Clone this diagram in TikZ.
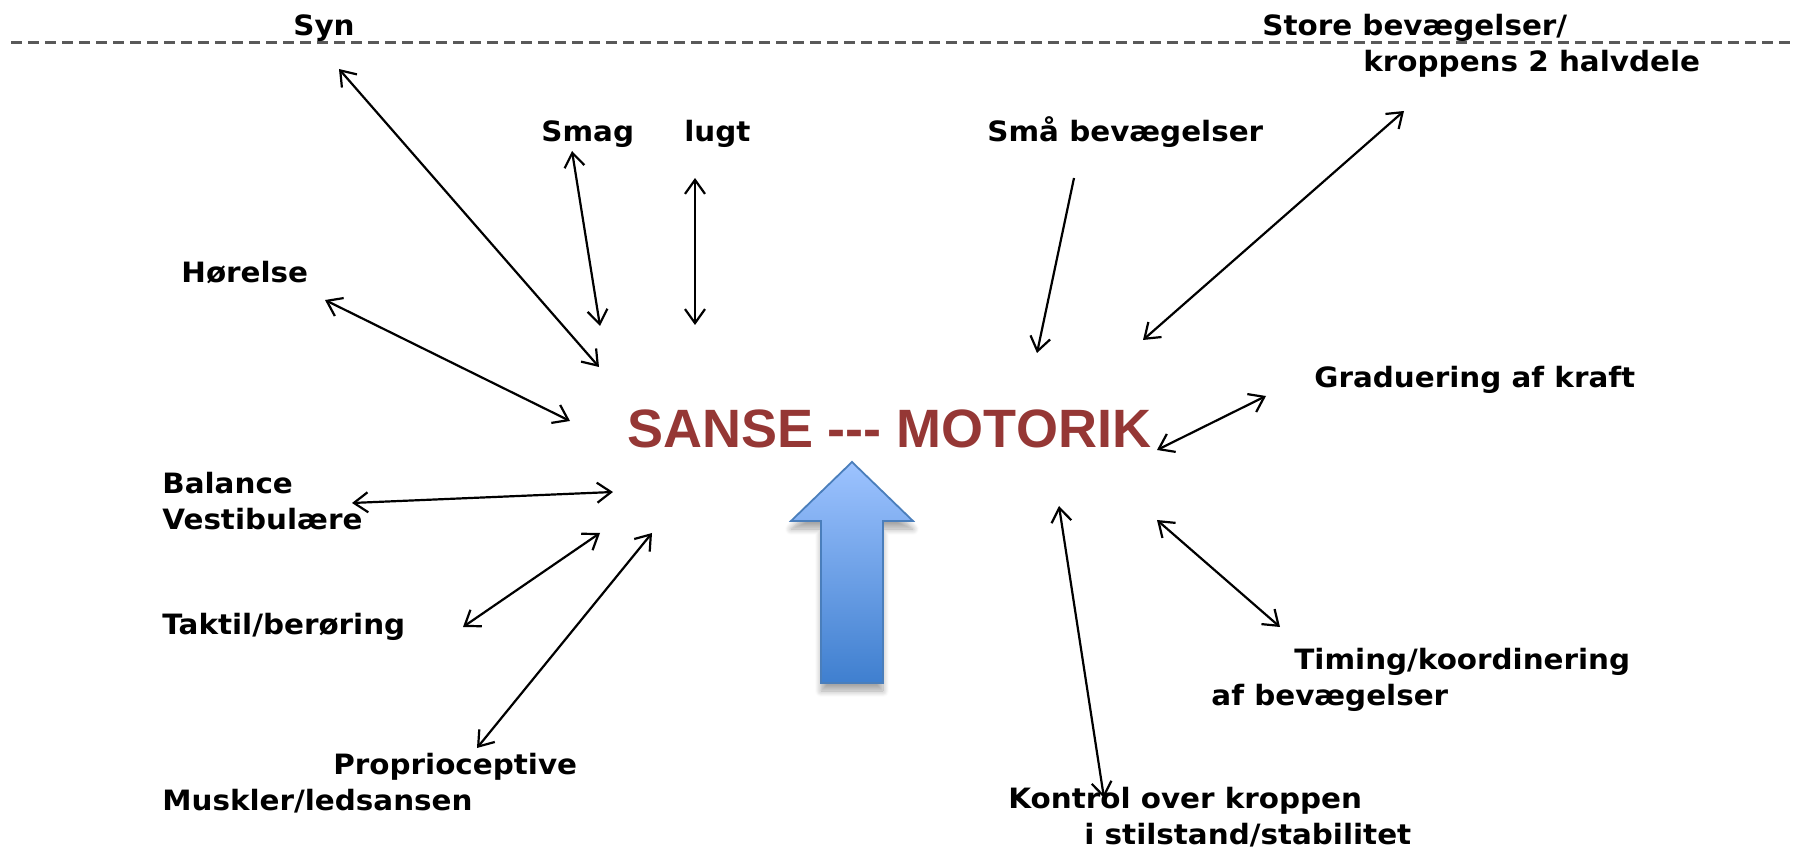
\documentclass[tikz,border=0pt]{standalone}
\usepackage{fontspec}
\usepackage{tikz}
\usetikzlibrary{arrows.meta,shadows.blur}
\newfontfamily\lblfont[FakeStretch=1.05]{DejaVu Sans}
\newfontfamily\ttlfont{Liberation Sans}
\definecolor{titlered}{HTML}{953735}
\definecolor{arrtop}{HTML}{9DC3FF}
\definecolor{arrbot}{HTML}{3F7FCF}
\definecolor{arredge}{HTML}{4A7EBB}
\definecolor{dashgray}{HTML}{595959}

\begin{document}
\begin{tikzpicture}[x=0.5pt, y=-0.5pt,
  lbl/.style={font=\lblfont\bfseries\fontsize{14pt}{18pt}\selectfont, inner sep=0pt, anchor=base west, align=left},
  arr/.style={{Straight Barb[length=7pt,width=10pt]}-{Straight Barb[length=7pt,width=10pt]}, line width=1.1pt},
  onearr/.style={-{Straight Barb[length=7pt,width=10pt]}, line width=1.1pt},
  bigarr/.style={draw=arredge, line width=0.9pt, top color=arrtop, bottom color=arrbot,
    blur shadow={shadow xshift=0pt, shadow yshift=-4pt, shadow blur steps=8, shadow blur radius=3pt, shadow opacity=35}}]
\useasboundingbox (0,0) rectangle (1796,849);
\draw[dashgray, line width=1.5pt, dash pattern=on 5.5pt off 3pt] (11,43) -- (1796,43);
% senses (multi-line labels sit on their last baseline)
\node[lbl] (syn) at (293,36) {Syn};
\node[lbl] (smag) at (541,142) {Smag};
\node[lbl] (lugt) at (684,142) {lugt};
\node[lbl] (hoer) at (181,283) {Hørelse};
\node[lbl] (bal) at (162,530) {Balance\\Vestibulære};
\node[lbl] (takt) at (162,635) {Taktil/berøring};
\node[lbl] (prop) at (162,811) {\hspace*{85.5pt}Proprioceptive\\Muskler/ledsansen};
% motor side
\node[lbl] (smaa) at (987,142) {Små bevægelser};
\node[lbl] (store) at (1262,72) {Store bevægelser/\\\hspace*{50.5pt}kroppens 2 halvdele};
\node[lbl] (grad) at (1314,388) {Graduering af kraft};
\node[lbl] (tim) at (1211,706) {\hspace*{41.5pt}Timing/koordinering\\af bevægelser};
\node[lbl] (kont) at (1008,845) {Kontrol over kroppen\\\hspace*{38pt}i stilstand/stabilitet};
\node[font=\ttlfont\bfseries\fontsize{27pt}{32pt}\selectfont, text=titlered, inner sep=0pt, anchor=base] (title) at (889,448)
  {SANSE \mbox{-}\mbox{-}\mbox{-} MOTORIK};
% big up arrow
\path[bigarr] (852,462) -- (913,521) -- (883,521) -- (883,683) -- (821,683) -- (821,521) -- (791,521) -- cycle;
% arrow ends
\coordinate (syn-a) at (339,69);   \coordinate (syn-b) at (599,367);
\coordinate (smag-a) at (572,151); \coordinate (smag-b) at (600,326);
\coordinate (lugt-a) at (695,178); \coordinate (lugt-b) at (695,325);
\coordinate (hoer-a) at (325,300); \coordinate (hoer-b) at (570,421);
\coordinate (bal-a) at (352,503);  \coordinate (bal-b) at (613,492);
\coordinate (takt-a) at (463,627); \coordinate (takt-b) at (600,533);
\coordinate (prop-a) at (477,748); \coordinate (prop-b) at (652,533);
\coordinate (smaa-a) at (1074,178); \coordinate (smaa-b) at (1037,353);
\coordinate (store-a) at (1404,111); \coordinate (store-b) at (1143,340);
\coordinate (grad-a) at (1266,396); \coordinate (grad-b) at (1157,450);
\coordinate (tim-a) at (1280,627); \coordinate (tim-b) at (1157,520);
\coordinate (kont-a) at (1104,798); \coordinate (kont-b) at (1059,506);
\draw[arr] (syn-a)--(syn-b); \draw[arr] (smag-a)--(smag-b); \draw[arr] (lugt-a)--(lugt-b);
\draw[arr] (hoer-a)--(hoer-b); \draw[arr] (bal-a)--(bal-b); \draw[arr] (takt-a)--(takt-b);
\draw[arr] (prop-a)--(prop-b);
\draw[onearr] (smaa-a)--(smaa-b);
\draw[arr] (store-a)--(store-b); \draw[arr] (grad-a)--(grad-b); \draw[arr] (tim-a)--(tim-b);
\draw[arr] (kont-a)--(kont-b);
\end{tikzpicture}
\end{document}
